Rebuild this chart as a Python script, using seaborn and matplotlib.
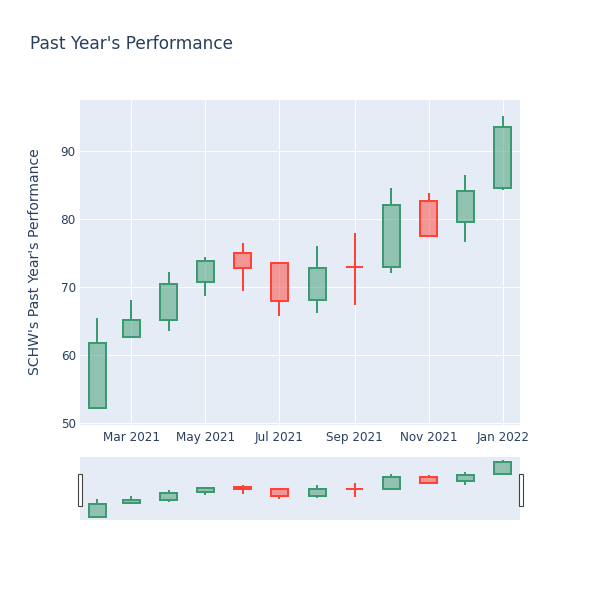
import numpy as np
import pandas as pd
import matplotlib
matplotlib.use("Agg")
import matplotlib.pyplot as plt
import matplotlib.dates as mdates
from matplotlib.patches import Rectangle
import seaborn as sns

# monthly candles
months = ["2021-02-01", "2021-03-01", "2021-04-01", "2021-05-01", "2021-06-01", "2021-07-01",
          "2021-08-01", "2021-09-01", "2021-10-01", "2021-11-01", "2021-12-01", "2022-01-01"]
open_px = [52.1, 62.6, 65.1, 70.7, 75.0, 73.5, 68.1, 72.85, 72.95, 82.55, 79.55, 84.5]
close_px = [61.7, 65.1, 70.4, 73.8, 72.8, 67.9, 72.8, 72.85, 82.0, 77.4, 84.1, 93.5]
high_px = [65.35, 68.1, 72.1, 74.3, 76.4, 73.5, 76.0, 77.9, 84.5, 83.8, 86.4, 95.1]
low_px = [52.0, 62.4, 63.5, 68.7, 69.3, 65.7, 66.2, 67.35, 72.05, 77.3, 76.5, 84.2]
y_ticks = [50, 60, 70, 80, 90]

df = pd.DataFrame({"date": pd.to_datetime(months), "open": open_px, "close": close_px,
                   "high": high_px, "low": low_px})
df["x"] = mdates.date2num(df["date"])

sns.set_theme(style="darkgrid", rc={"axes.facecolor": "#E5ECF6", "grid.color": "white",
                                    "grid.linewidth": 0.75, "figure.facecolor": "white"})
plt.rcParams['font.family'] = ['DejaVu Sans']

txt = "#2a3f5f"
up_col, dn_col = "#3D9970", "#FF4136"
lw = 1.44


def draw_candles(ax):
    for _, r in df.iterrows():
        up = r["close"] > r["open"]
        col = up_col if up else dn_col
        lo, hi = min(r["open"], r["close"]), max(r["open"], r["close"])
        ax.vlines(r["x"], r["low"], lo, color=col, lw=lw, zorder=3)
        ax.vlines(r["x"], hi, r["high"], color=col, lw=lw, zorder=3)
        ax.bar(r["x"], hi - lo, bottom=lo, width=14, facecolor=matplotlib.colors.to_rgba(col, 0.5),
               edgecolor=col, linewidth=lw, zorder=4)


fig = plt.figure(figsize=(6, 6), dpi=100)
ax = fig.add_axes([80/600, 175/600, 440/600, 325/600])
draw_candles(ax)
x_lo = mdates.date2num(pd.Timestamp("2021-01-18"))
x_hi = mdates.date2num(pd.Timestamp("2022-01-15"))
ax.set_xlim(x_lo, x_hi)
ax.set_ylim(49.66, 97.45)
ax.set_yticks(y_ticks)
ax.xaxis.set_major_locator(mdates.MonthLocator(bymonth=[1, 3, 5, 7, 9, 11]))
ax.xaxis.set_major_formatter(mdates.DateFormatter('%b %Y'))
ax.tick_params(axis="both", length=0, labelsize=8.64, labelcolor=txt)
ax.tick_params(axis="y", pad=3)
ax.tick_params(axis="x", pad=4)
for s in ax.spines.values():
    s.set_visible(False)
ax.grid(True, color="white", lw=0.75)
ax.set_axisbelow(True)

# range slider
ax2 = fig.add_axes([80/600, 80/600, 440/600, 63/600])
draw_candles(ax2)
ax2.set_xlim(x_lo, x_hi)
ax2.set_ylim(49.66, 97.45)
ax2.set_xticks([])
ax2.set_yticks([])
ax2.grid(False)
for s in ax2.spines.values():
    s.set_visible(False)
for hx in [-2.5/440, 438.5/440]:
    ax2.add_patch(Rectangle((hx, 0.23), 4/440, 0.508, transform=ax2.transAxes, clip_on=False,
                            facecolor="white", edgecolor="#444444", lw=0.8, zorder=5))

fig.text(30/600, 1 - 44/600, "Past Year's Performance", fontsize=12.24, color=txt,
         ha="left", va="center")
fig.text(35/600, 1 - 262/600, "SCHW's Past Year's Performance", fontsize=10.08, color=txt,
         ha="center", va="center", rotation=90)

plt.savefig("out.png", dpi=100)
